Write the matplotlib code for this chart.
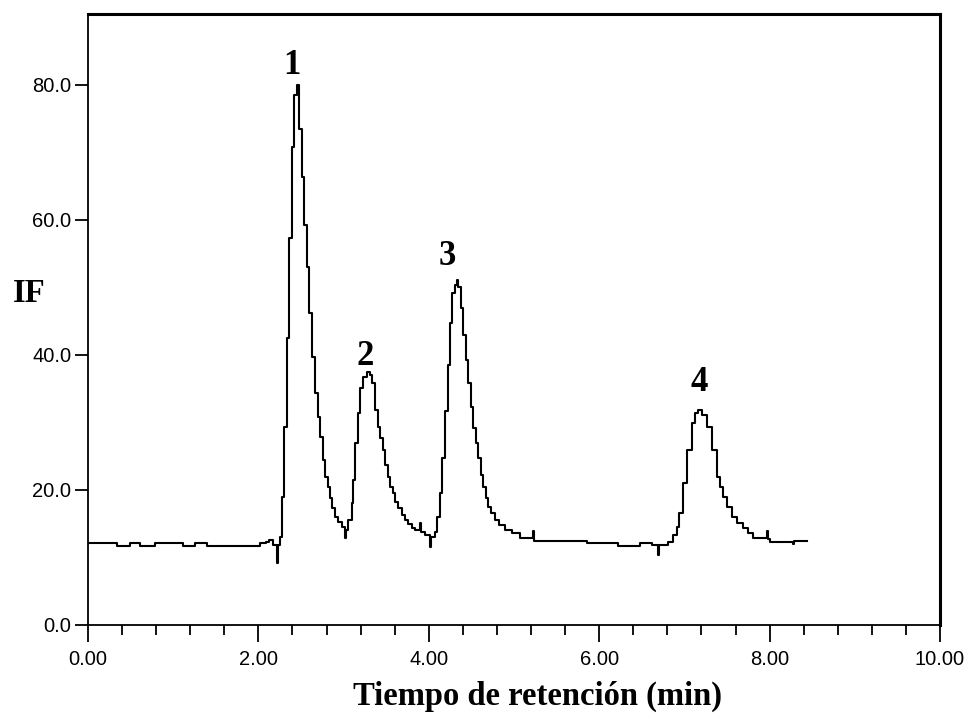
import matplotlib
matplotlib.use("Agg")
import matplotlib.pyplot as plt
from matplotlib.ticker import MultipleLocator

# ---- data ----
time_min = [
    0.000, 0.340, 0.493, 0.610, 0.786, 1.115, 1.256, 1.397, 2.019, 2.090,
    2.130, 2.170, 2.215, 2.230, 2.254, 2.273, 2.304, 2.332, 2.359, 2.391,
    2.421, 2.450, 2.477, 2.508, 2.539, 2.567, 2.597, 2.626, 2.664, 2.696,
    2.723, 2.755, 2.782, 2.813, 2.840, 2.867, 2.899, 2.938, 2.978, 3.016,
    3.026, 3.055, 3.095, 3.114, 3.134, 3.165, 3.192, 3.231, 3.271, 3.310,
    3.337, 3.369, 3.400, 3.427, 3.459, 3.486, 3.518, 3.545, 3.576, 3.603,
    3.642, 3.682, 3.721, 3.759, 3.799, 3.838, 3.897, 3.907, 3.955, 4.014,
    4.024, 4.073, 4.100, 4.131, 4.158, 4.190, 4.222, 4.249, 4.276, 4.307,
    4.327, 4.346, 4.374, 4.405, 4.437, 4.464, 4.492, 4.522, 4.550, 4.581,
    4.613, 4.640, 4.668, 4.698, 4.730, 4.777, 4.824, 4.894, 4.973, 5.070,
    5.227, 5.237, 5.853, 6.224, 6.479, 6.616, 6.694, 6.704, 6.811, 6.870,
    6.910, 6.940, 6.987, 7.034, 7.086, 7.124, 7.163, 7.207, 7.262, 7.320,
    7.379, 7.418, 7.457, 7.500, 7.555, 7.617, 7.691, 7.746, 7.809, 7.966,
    7.976, 8.005, 8.278, 8.290, 8.440,
]
if_signal = [
    12.10, 11.70, 12.10, 11.70, 12.10, 11.70, 12.10, 11.70, 12.10, 12.30,
    12.60, 11.90, 9.14, 11.90, 13.08, 19.01, 29.38, 42.47, 57.38, 70.86,
    78.52, 80.00, 73.44, 66.33, 59.21, 53.08, 46.18, 39.75, 34.33, 30.86,
    27.90, 24.44, 21.97, 20.49, 18.77, 17.29, 16.04, 15.30, 14.56, 12.89,
    14.07, 15.56, 18.03, 21.48, 26.92, 31.36, 35.07, 36.79, 37.53, 37.04,
    35.81, 31.85, 29.38, 27.66, 25.93, 23.70, 21.97, 20.49, 19.51, 18.27,
    17.29, 16.30, 15.56, 14.96, 14.33, 14.07, 15.10, 13.82, 13.33, 11.60,
    13.08, 13.82, 16.04, 19.51, 24.80, 31.70, 38.52, 44.70, 49.14, 50.37,
    51.11, 50.12, 46.92, 42.96, 39.26, 35.81, 32.34, 29.14, 26.92, 24.70,
    22.22, 20.49, 18.77, 17.53, 16.55, 15.56, 14.81, 14.07, 13.59, 12.90,
    13.97, 12.49, 12.19, 11.70, 12.19, 11.85, 10.37, 11.85, 12.34, 13.33,
    14.56, 16.55, 20.99, 25.93, 29.88, 31.41, 31.85, 31.11, 29.38, 25.93,
    21.97, 20.44, 19.01, 17.48, 16.04, 15.11, 14.33, 13.63, 12.84, 13.97,
    12.70, 12.34, 12.00, 12.49, 12.49,
]

peak_labels = ["1", "2", "3", "4"]
peak_label_x = [2.394, 3.251, 4.214, 7.171]
peak_label_y = [81.6, 38.5, 53.3, 34.6]

x_ticks = [0, 2, 4, 6, 8, 10]
x_tick_labels = ["0.00", "2.00", "4.00", "6.00", "8.00", "10.00"]
y_ticks = [0, 20, 40, 60, 80]
y_tick_labels = ["0.0", "20.0", "40.0", "60.0", "80.0"]

x_label = "Tiempo de retención (min)"
y_label = "IF"

# ---- figure ----
fig = plt.figure(figsize=(9.68, 7.13), dpi=100)
ax = fig.add_axes([88 / 968, 1 - 625 / 713, (940 - 88) / 968, (625 - 14) / 713])

ax.plot(time_min, if_signal, color="black", lw=1.5, drawstyle="steps-post")

ax.set_xlim(0, 10)
ax.set_ylim(0, 90.5)

ax.set_xticks(x_ticks)
ax.set_xticklabels(x_tick_labels, family="Liberation Sans", fontsize=14.5)
ax.set_yticks(y_ticks)
ax.set_yticklabels(y_tick_labels, family="Liberation Sans", fontsize=14.5)
ax.xaxis.set_minor_locator(MultipleLocator(0.4))

ax.tick_params(axis="x", which="major", direction="out", length=12, width=1.3,
               pad=6, color="black")
ax.tick_params(axis="x", which="minor", direction="out", length=7, width=1.3,
               color="black")
ax.tick_params(axis="y", which="major", direction="out", length=9.5, width=1.3,
               pad=2.5, color="black")
ax.tick_params(top=False, right=False)

for side in ["left", "bottom"]:
    ax.spines[side].set_linewidth(1.3)
for side in ["top", "right"]:
    ax.spines[side].set_linewidth(2.2)

for lab, lx, ly in zip(peak_labels, peak_label_x, peak_label_y):
    ax.text(lx, ly, lab, family="Liberation Serif", fontweight="bold",
            fontsize=25, ha="center", va="baseline")

fig.text(537.5 / 968, 1 - 705 / 713, x_label, family="Liberation Serif",
         fontweight="bold", fontsize=23.5, ha="center", va="baseline")
fig.text(13 / 968, 1 - 302 / 713, y_label, family="Liberation Serif",
         fontweight="bold", fontsize=23.5, ha="left", va="baseline")

fig.savefig("out.png", dpi=100)
